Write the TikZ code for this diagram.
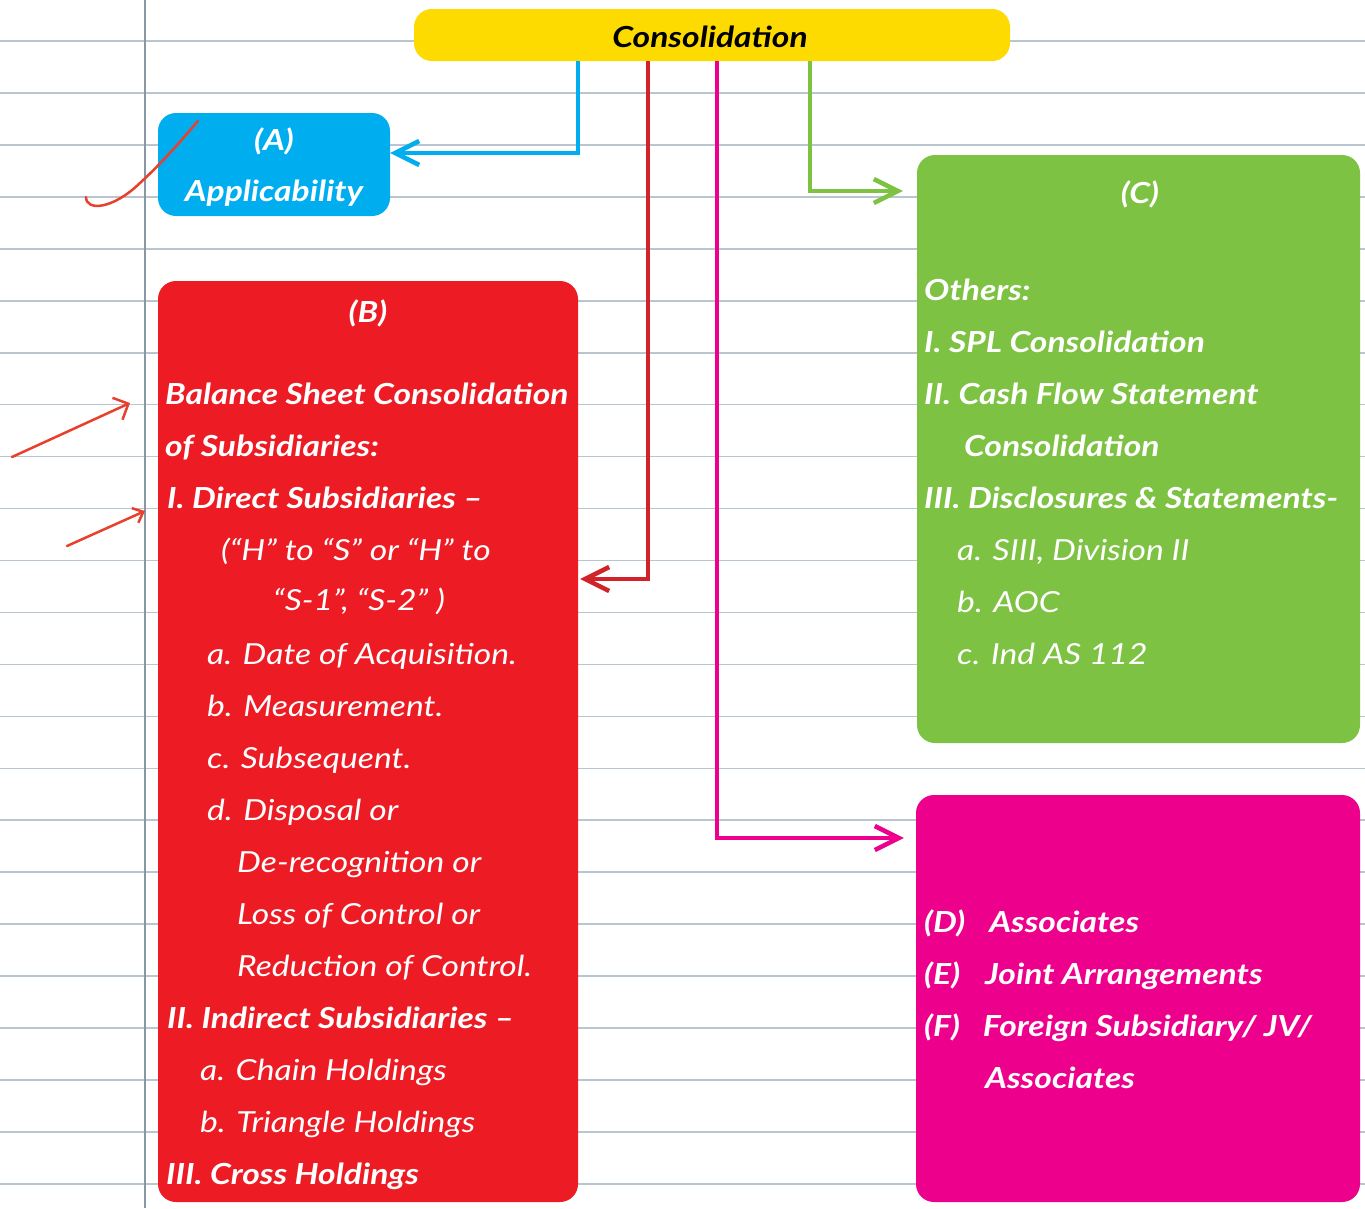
\documentclass[tikz,border=0pt]{standalone}
\usepackage{fontspec}
\setmainfont{Lato}[FakeStretch=1.16]
\usetikzlibrary{arrows.meta}
\definecolor{cyellow}{HTML}{FEDB00}
\definecolor{cblue}{HTML}{00AEEF}
\definecolor{cred}{HTML}{ED1C24}
\definecolor{credline}{HTML}{D2232A}
\definecolor{cgreen}{HTML}{7DC242}
\definecolor{cmag}{HTML}{EC008C}
\definecolor{rulec}{HTML}{BAC6CF}
\definecolor{marginc}{HTML}{8797A4}
\definecolor{handred}{HTML}{E8402C}
\tikzset{
 rulel/.style={draw=rulec, line width=1.6pt},
 boxs/.style={rectangle, rounded corners=18pt, inner sep=0pt, draw=none},
 txt/.style={anchor=base west, inner sep=0pt, text=white, font=\fontsize{29}{31}\selectfont\itshape},
 btxt/.style={anchor=base west, inner sep=0pt, text=white, font=\fontsize{29}{31}\selectfont\bfseries\itshape},
 conn/.style={line width=4.5pt, -{Straight Barb[length=24pt,width=24pt]}},
 hand/.style={draw=handred, line width=2.5pt, line cap=round, line join=round},
}
\begin{document}
\begin{tikzpicture}[x=1pt,y=-1pt]
\useasboundingbox (0,0) rectangle (1365,1208);
\fill[white] (0,0) rectangle (1365,1208);
% ruled paper
\foreach \k in {0,...,22} \draw[rulel] (0,{41+51.95*\k}) -- (1365,{41+51.95*\k});
\draw[draw=marginc, line width=2pt] (145,0) -- (145,1208);

% boxes
\node[boxs, fill=cyellow, minimum width=596pt, minimum height=52pt] (cons) at (712,35) {};
\node[boxs, fill=cblue, minimum width=232pt, minimum height=103pt] (A) at (274,164.5) {};
\node[boxs, fill=cred, minimum width=420pt, minimum height=921pt] (B) at (368,741.5) {};
\node[boxs, fill=cgreen, minimum width=443pt, minimum height=588pt] (C) at (1138.5,449) {};
\node[boxs, fill=cmag, minimum width=444pt, minimum height=407pt] (D) at (1138,998.5) {};

% connectors
\draw[conn, draw=cblue] (cons.south -| 578,0) |- (A.east |- 0,153);
\draw[conn, draw=credline, shorten >=2pt] (cons.south -| 648,0) |- (B.east |- 0,579);
\draw[conn, draw=cmag, shorten >=12pt] (cons.south -| 717,0) |- (D.west |- 0,838);
\draw[conn, draw=cgreen, shorten >=14pt] (cons.south -| 810,0) |- (C.west |- 0,191);

% texts
\node[btxt, text=black, anchor=base] (consT) at (710,47) {Consolidation};

\node[btxt, anchor=base] (At) at (274,150) {(A)};
\node[btxt, anchor=base] (A1) at (274,201) {Applicability};

\node[btxt, anchor=base] (Bt) at (368,322) {(B)};
\node[btxt] (B1) at (165,404) {Balance Sheet Consolidation};
\node[btxt] (B2) at (165,456) {of Subsidiaries:};
\node[btxt] (B3) at (167,508) {I. Direct Subsidiaries –};
\node[txt] (B4) at (221,560) {(“H” to “S” or “H” to};
\node[txt] (B5) at (273,610) {“S-1”, “S-2” )};
\node[txt] (B6) at (207,664) {a. Date of Acquisition.};
\node[txt] (B7) at (207,716) {b. Measurement.};
\node[txt] (B8) at (207,768) {c. Subsequent.};
\node[txt] (B9) at (207,820) {d. Disposal or};
\node[txt] (B10) at (237,872) {De-recognition or};
\node[txt] (B11) at (237,924) {Loss of Control or};
\node[txt] (B12) at (237,976) {Reduction of Control.};
\node[btxt] (B13) at (167,1028) {II. Indirect Subsidiaries –};
\node[txt] (B14) at (200,1080) {a. Chain Holdings};
\node[txt] (B15) at (200,1132) {b. Triangle Holdings};
\node[btxt] (B16) at (166,1184) {III. Cross Holdings};

\node[btxt, anchor=base] (Ct) at (1140,203) {(C)};
\node[btxt] (C1) at (924,300) {Others:};
\node[btxt] (C2) at (924,352) {I. SPL Consolidation};
\node[btxt] (C3) at (924,404) {II. Cash Flow Statement};
\node[btxt] (C4) at (964,456) {Consolidation};
\node[btxt] (C5) at (924,508) {III. Disclosures \& Statements-};
\node[txt] (C6) at (957,560) {a. SIII, Division II};
\node[txt] (C7) at (957,612) {b. AOC};
\node[txt] (C8) at (957,664) {c. Ind AS 112};

\node[btxt] (D1) at (924,932) {(D)\hspace{24pt}Associates};
\node[btxt] (D2) at (924,984) {(E)\hspace{25pt}Joint Arrangements};
\node[btxt] (D3) at (924,1036) {(F)\hspace{23pt}Foreign Subsidiary/ JV/};
\node[btxt] (D4) at (985,1088) {Associates};

% hand-drawn marks
\draw[hand] (86,197) .. controls (86,211) and (112,210) .. (140,183) .. controls (165,160) and (185,136) .. (198,121);
\draw[hand, -{Straight Barb[length=12pt,width=24pt]}] (12,457) -- (130,403);
\draw[hand, -{Straight Barb[length=9pt,width=16pt]}] (67,546) -- (145,511);
\end{tikzpicture}
\end{document}
